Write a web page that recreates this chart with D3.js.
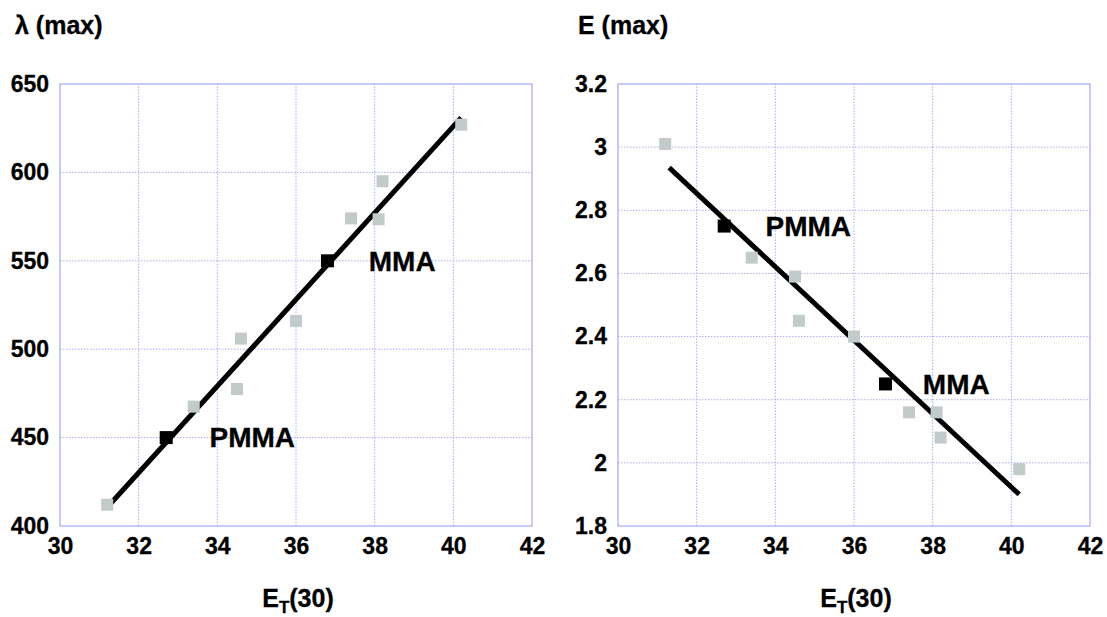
<!DOCTYPE html>
<html lang="en">
<head>
<meta charset="UTF-8">
<title>lambda max and E max vs ET(30)</title>
<script src="https://cdn.jsdelivr.net/npm/d3@7/dist/d3.min.js"></script>
<style>
    body { margin: 0; background: #fff; }
    svg { font-family: 'Liberation Sans', Arial, sans-serif; font-weight: bold; }
    .grid line { stroke: #a9adf2; stroke-width: 1; stroke-dasharray: 1.5,1.5; }
    .frame { fill: none; stroke: #a3a8f0; stroke-width: 1.2; }
    .tick text { font-size: 23px; font-weight: bold; fill: #000; stroke: #000; stroke-width: 0.3px; }
    .domain { display: none; }
    .heavy { stroke: #000; stroke-width: 0.3px; }
</style>
</head>
<body>
<div id="chart"></div>
<script>
    // solvent points (grey) and polymer points (black)
    var solventET   = [31.2, 33.4, 34.5, 34.6, 36.0, 37.4, 38.1, 38.2, 40.2];
    var solventLmax = [412, 467.5, 477.5, 506, 516, 574, 573.5, 595, 627];
    var solventEmax = [3.01, 2.65, 2.59, 2.45, 2.40, 2.16, 2.16, 2.08, 1.98];

    var polymerNames = ['PMMA', 'MMA'];
    var polymerET    = [32.7, 36.8];
    var polymerLmax  = [450, 550];
    var polymerEmax  = [2.75, 2.25];

    // fitted lines (end points)
    var fitET   = [31.3, 40.2];
    var fitLmax = [413, 631];
    var fitEmax = [2.935, 1.90];

    // label x positions (ET units)
    var labelETLeft  = [33.8, 37.85];
    var labelETRight = [33.75, 37.75];

    var xTicks      = [30, 32, 34, 36, 38, 40, 42];
    var lmaxTicks   = [400, 450, 500, 550, 600, 650];
    var emaxTicks   = [1.8, 2, 2.2, 2.4, 2.6, 2.8, 3, 3.2];

    var width = 1107, height = 617;
    var svg = d3.select('#chart').append('svg')
        .attr('width', width)
        .attr('height', height);

    function drawPanel(opt) {
        var x = d3.scaleLinear().domain([30, 42]).range([opt.left, opt.left + 472]);
        var y = d3.scaleLinear().domain(opt.yDomain).range([526, 84]);
        var g = svg.append('g');

        // grid
        var grid = g.append('g').attr('class', 'grid');
        grid.selectAll('.gx').data(xTicks.slice(1, -1)).enter().append('line')
            .attr('x1', d => x(d)).attr('x2', d => x(d))
            .attr('y1', y.range()[0]).attr('y2', y.range()[1]);
        grid.selectAll('.gy').data(opt.yTicks.slice(1, -1)).enter().append('line')
            .attr('x1', x.range()[0]).attr('x2', x.range()[1])
            .attr('y1', d => y(d)).attr('y2', d => y(d));

        g.append('rect').attr('class', 'frame')
            .attr('x', x.range()[0]).attr('y', y.range()[1])
            .attr('width', x.range()[1] - x.range()[0])
            .attr('height', y.range()[0] - y.range()[1]);

        // axes
        g.append('g')
            .attr('transform', 'translate(0,' + y.range()[0] + ')')
            .call(d3.axisBottom(x).tickValues(xTicks).tickSize(0).tickPadding(12).tickFormat(d3.format('d')));
        g.append('g')
            .attr('transform', 'translate(' + x.range()[0] + ',0)')
            .call(d3.axisLeft(y).tickValues(opt.yTicks).tickSize(0).tickPadding(11).tickFormat(d => String(+d.toFixed(1))));

        // fitted line
        g.append('line')
            .attr('x1', x(fitET[0])).attr('y1', y(opt.fit[0]))
            .attr('x2', x(fitET[1])).attr('y2', y(opt.fit[1]))
            .attr('stroke', '#000').attr('stroke-width', 5);

        // grey squares
        var s = 12;
        g.selectAll('.sol').data(solventET).enter().append('rect')
            .attr('x', (d, i) => x(d) - s / 2)
            .attr('y', (d, i) => y(opt.solvent[i]) - s / 2)
            .attr('width', s).attr('height', s)
            .attr('fill', '#c3cbca');

        // black squares
        var b = 13;
        g.selectAll('.pol').data(polymerET).enter().append('rect')
            .attr('x', d => x(d) - b / 2)
            .attr('y', (d, i) => y(opt.polymer[i]) - b / 2)
            .attr('width', b).attr('height', b)
            .attr('fill', '#000');

        g.selectAll('.lab').data(polymerNames).enter().append('text')
            .attr('class', 'heavy')
            .attr('x', (d, i) => x(opt.labelET[i]))
            .attr('y', (d, i) => y(opt.polymer[i]))
            .attr('dy', '0.35em')
            .style('font-size', '28px')
            .text(d => d);

        // axis titles
        var xt = g.append('text')
            .attr('class', 'heavy')
            .attr('x', (x.range()[0] + x.range()[1]) / 2 + 2)
            .attr('y', 607)
            .attr('text-anchor', 'middle')
            .style('font-size', '25px');
        xt.append('tspan').text('E');
        xt.append('tspan').attr('dy', 6).style('font-size', '17px').text('T');
        xt.append('tspan').attr('dy', -6).text('(30)');

        g.append('text')
            .attr('class', 'heavy')
            .attr('x', opt.titleX)
            .attr('y', 34)
            .style('font-size', '25px')
            .text(opt.title);
    }

    drawPanel({
        left: 60, yDomain: [400, 650], yTicks: lmaxTicks,
        solvent: solventLmax, polymer: polymerLmax, fit: fitLmax,
        labelET: labelETLeft, title: 'λ (max)', titleX: 15
    });
    drawPanel({
        left: 618, yDomain: [1.8, 3.2], yTicks: emaxTicks,
        solvent: solventEmax, polymer: polymerEmax, fit: fitEmax,
        labelET: labelETRight, title: 'E (max)', titleX: 578
    });
</script>
</body>
</html>
